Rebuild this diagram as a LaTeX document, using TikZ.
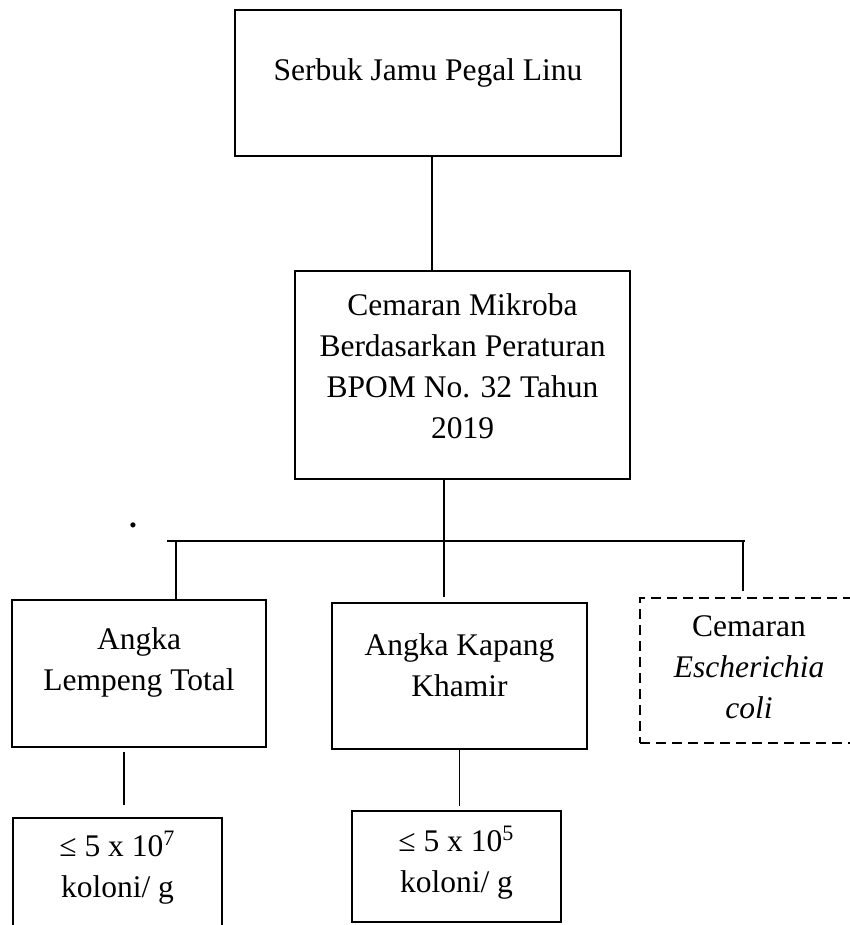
\documentclass[tikz,border=0pt]{standalone}
\usepackage{fontspec}
\setmainfont{Liberation Serif}
\begin{document}
\begin{tikzpicture}[x=0.4pt, y=-0.4pt,
    box/.style={draw=borderColour, line width=0.8pt, inner sep=0pt},
    dashbox/.style={box, dash pattern=on 4pt off 2.4pt},
    boxtext/.style={align=center, inner sep=0pt, font=\fontsize{12.6}{16.4}\selectfont},
    link/.style={draw=borderColour, line width=0.5pt}]
    % Define colours
    \definecolor{borderColour}{HTML}{000000}

    % Fix page size
    \useasboundingbox (0,0) rectangle (849,925);

    % Draw boxes
    \node[box, minimum width=154.4pt, minimum height=58.4pt] (serbuk) at (428,83) {};
    \node[box, minimum width=134pt, minimum height=83.2pt] (cemaran) at (462.5,375) {};
    \node[box, minimum width=101.6pt, minimum height=58.8pt] (lempeng) at (139,673.5) {};
    \node[box, minimum width=102pt, minimum height=58.4pt] (kapang) at (459.5,676) {};
    \node[dashbox, minimum width=87.2pt, minimum height=58pt] (ecoli) at (749,670.5) {};
    \node[box, minimum width=83.6pt, minimum height=56.8pt] (batasA) at (117.5,889) {};
    \node[box, minimum width=83.6pt, minimum height=44.4pt] (batasB) at (456.5,866.5) {};

    % Box texts
    \node[boxtext] (serbukText) at (428,73) {Serbuk Jamu Pegal Linu};
    \node[boxtext] (cemaranText) at (462.5,366) {Cemaran Mikroba\\Berdasarkan Peraturan\\BPOM No. 32 Tahun\\2019};
    \node[boxtext] (lempengText) at (139,662.5) {Angka\\Lempeng Total};
    \node[boxtext] (kapangText) at (459.5,665.5) {Angka Kapang\\Khamir};
    \node[boxtext] (ecoliText) at (749,667.5) {Cemaran\\\textit{Escherichia}\\\textit{coli}};
    \node[boxtext] (batasAText) at (117.5,867.5) {≤ 5 x 10\textsuperscript{7}\\koloni/ g};
    \node[boxtext] (batasBText) at (456.5,862.5) {≤ 5 x 10\textsuperscript{5}\\koloni/ g};
    \node[boxtext, font=\bfseries\fontsize{12.6}{16.4}\selectfont] (titik) at (133,525) {.};

    % Branch points
    \coordinate (barL) at (167,541);
    \coordinate (barR) at (745,541);
    \coordinate (hub) at (444,541);
    \coordinate (dropA) at (176,541);
    \coordinate (dropC) at (743,541);

    % Draw links
    \draw[link] ([xshift=1.6pt]serbuk.south) -- ([xshift=1.6pt]serbuk.south |- cemaran.north);
    \draw[link, shorten >=2pt] (cemaran.south -| hub) -- (hub |- kapang.north);
    \draw[link] (barL) -- (barR);
    \draw[link] (dropA) -- (dropA |- lempeng.north);
    \draw[link, shorten >=2.4pt] (dropC) -- (dropC |- ecoli.north);
    \draw[link, shorten <=1.6pt, shorten >=4.8pt] ([xshift=-6pt]lempeng.south) -- ([xshift=-6pt]lempeng.south |- batasA.north);
    \draw[link, shorten >=1.6pt] (kapang.south) -- (kapang.south |- batasB.north);

\end{tikzpicture}
\end{document}
